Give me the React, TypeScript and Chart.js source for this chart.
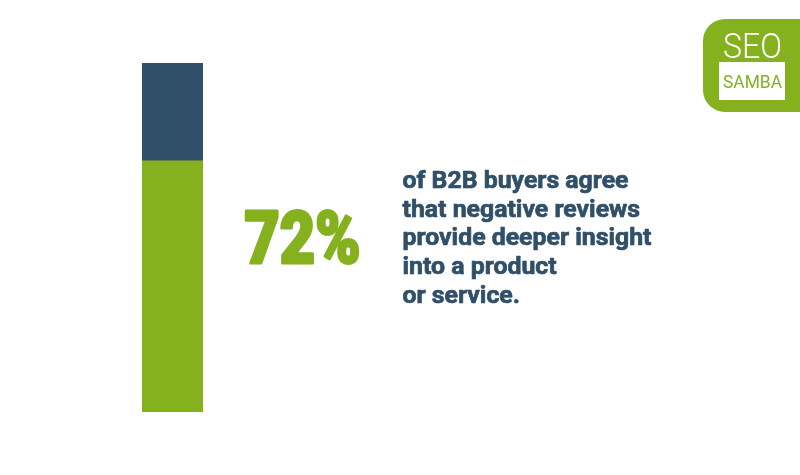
import React, { useEffect, useRef } from "react";
import { Chart, registerables } from "chart.js";

Chart.register(...registerables);

const categories = ["B2B buyers"];
const agreeValues = [72];
const otherValues = [28];
const headline = "72%";
const bodyLines = [
  "of B2B buyers agree",
  "that negative reviews",
  "provide deeper insight",
  "into a product",
  "or service.",
];
const logoTop = "SEO";
const logoBottom = "SAMBA";

const GREEN = "#85B11F";
const BLUE = "#304F69";

function fitText(
  ctx: CanvasRenderingContext2D,
  text: string,
  x: number,
  y: number,
  width: number,
  stroke = 0
) {
  const w = ctx.measureText(text).width;
  ctx.save();
  ctx.translate(x + stroke / 2, y);
  const sx = (width - stroke) / w;
  ctx.scale(sx, 1);
  ctx.fillText(text, 0, 0);
  if (stroke > 0) {
    ctx.lineJoin = "round";
    ctx.lineWidth = stroke;
    ctx.strokeText(text, 0, 0);
  }
  ctx.restore();
}

const decor = {
  id: "decor",
  afterDraw(chart: any) {
    const ctx: CanvasRenderingContext2D = chart.ctx;
    ctx.save();
    ctx.textBaseline = "alphabetic";
    ctx.textAlign = "left";

    // headline
    ctx.fillStyle = GREEN;
    ctx.strokeStyle = GREEN;
    ctx.font = "900 72px Roboto";
    fitText(ctx, headline, 243, 263, 119, 3);

    // body text
    ctx.fillStyle = BLUE;
    ctx.strokeStyle = BLUE;
    ctx.font = "bold 20px Roboto";
    const w0 = ctx.measureText(bodyLines[0]).width;
    const size = (20 * 226) / w0;
    ctx.font = `bold ${size}px Roboto`;
    ctx.lineWidth = 0.7;
    ctx.lineJoin = "round";
    bodyLines.forEach((line, i) => {
      const y = 188 + i * 28.7;
      ctx.fillText(line, 402.5, y);
      ctx.strokeText(line, 402.5, y);
    });

    // logo
    ctx.fillStyle = GREEN;
    const lx = 703, ly = 19, lw = 120, lh = 93, r = 22;
    ctx.beginPath();
    ctx.moveTo(lx + r, ly);
    ctx.lineTo(lx + lw, ly);
    ctx.lineTo(lx + lw, ly + lh);
    ctx.lineTo(lx + r, ly + lh);
    ctx.arcTo(lx, ly + lh, lx, ly + lh - r, r);
    ctx.lineTo(lx, ly + r);
    ctx.arcTo(lx, ly, lx + r, ly, r);
    ctx.closePath();
    ctx.fill();

    ctx.fillStyle = "#ffffff";
    ctx.font = "300 35px Roboto";
    fitText(ctx, logoTop, 723, 58, 59);
    ctx.fillRect(719, 62, 66, 38);
    ctx.fillStyle = GREEN;
    ctx.font = "400 18px Roboto";
    fitText(ctx, logoBottom, 723, 88, 59);

    ctx.restore();
  },
};

export default function App() {
  const ref = useRef<HTMLCanvasElement>(null);
  useEffect(() => {
    document.body.style.margin = "0";
    const chart = new Chart(ref.current!, {
      type: "bar",
      data: {
        labels: categories,
        datasets: [
          {
            label: "Agree",
            data: agreeValues,
            backgroundColor: GREEN,
            borderRadius: 1,
            borderSkipped: false,
            barPercentage: 1,
            categoryPercentage: 1,
          },
          {
            label: "Other",
            data: otherValues,
            backgroundColor: BLUE,
            borderRadius: 1,
            borderSkipped: false,
            barPercentage: 1,
            categoryPercentage: 1,
          },
        ],
      },
      options: {
        animation: false,
        responsive: false,
        layout: { padding: { left: 142, right: 597, top: 63, bottom: 63 } },
        plugins: { legend: { display: false }, tooltip: { enabled: false } },
        scales: {
          x: { display: false, stacked: true },
          y: { display: false, stacked: true, min: 0, max: 100 },
        },
      },
      plugins: [decor],
    });
    return () => chart.destroy();
  }, []);
  return (
    <div style={{ width: 800, height: 475, background: "#fff" }}>
      <canvas ref={ref} width={800} height={475} />
    </div>
  );
}
